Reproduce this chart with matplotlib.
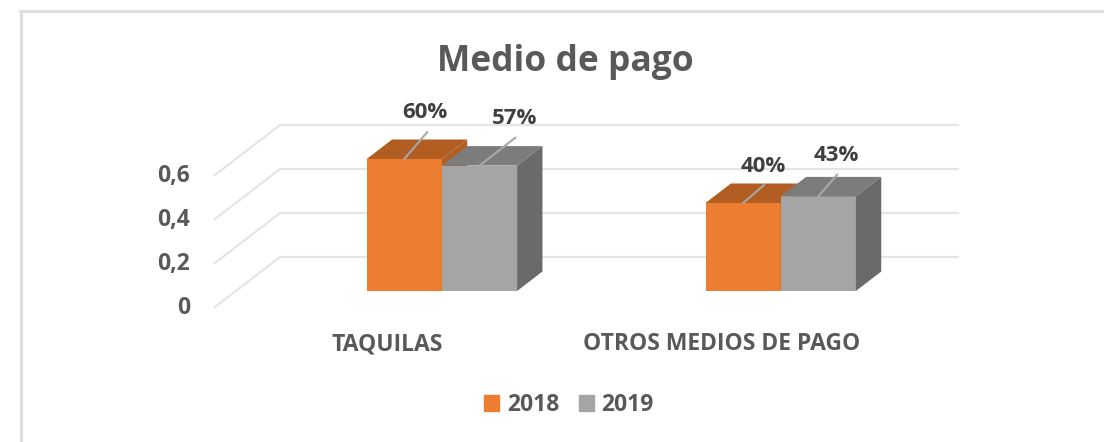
import matplotlib
matplotlib.use("Agg")
import matplotlib.pyplot as plt
from matplotlib.lines import Line2D
from matplotlib.patches import Patch
from matplotlib.transforms import ScaledTranslation

categories = ["TAQUILAS", "OTROS MEDIOS DE PAGO"]
years = ["2018", "2019"]
values_2018 = [0.60, 0.40]
values_2019 = [0.57, 0.43]
y_ticks = [0, 0.2, 0.4, 0.6]
y_tick_labels = ["0", "0,2", "0,4", "0,6"]
label_2018 = ["60%", "40%"]
label_2019 = ["57%", "43%"]

W, H = 1104, 442
plt.rcParams["font.family"] = ["Open Sans", "DejaVu Sans"]
plt.rcParams["font.weight"] = "bold"

fig = plt.figure(figsize=(W / 100, H / 100), dpi=100, facecolor="white")
L, R, B, T = 215, 893, 307, 87
ax = fig.add_axes([L / W, (H - B) / H, (R - L) / W, (B - T) / H])
ax.patch.set_alpha(0)

XU = 338.8            # px per category
YU = 220.0            # px per unit value
WALL_DX, WALL_DY = 65.0, 50.0
D0, D1 = 0.32, 0.71   # bar front/back depth
BAR = 75.2 / XU
C0 = 366.7 - D0 * WALL_DX
ax.set_xlim((L - C0) / XU, (R - C0) / XU)
ax.set_ylim(0, (B - T) / YU)


def P(x, v, d):
    return x + d * WALL_DX / XU, v + d * WALL_DY / YU


GRID = "#E4E4E4"
x0, x1 = ax.get_xlim()
for t in y_ticks:
    a, b = P(x0, t, 0), P(x0, t, 1)
    ax.plot([a[0], b[0]], [a[1], b[1]], color=GRID, lw=1.5, clip_on=False, zorder=1)
    c = P(x1, t, 1)
    ax.plot([b[0], c[0]], [b[1], c[1]], color=GRID, lw=1.5, clip_on=False, zorder=1)


def bar3d(x, v, front, top, side, z):
    dy = D0 * WALL_DY / YU
    left, right = x + D0 * WALL_DX / XU, x + D0 * WALL_DX / XU + BAR
    ax.bar(left, v, BAR, bottom=dy, align="edge", color=front, zorder=z, clip_on=False)
    dd = D1 - D0
    ox, oy = dd * WALL_DX / XU, dd * WALL_DY / YU
    ax.fill([left, right, right + ox, left + ox],
            [v + dy, v + dy, v + dy + oy, v + dy + oy], color=top, lw=0, zorder=z, clip_on=False)
    ax.fill([right, right + ox, right + ox, right],
            [dy, dy + oy, v + dy + oy, v + dy], color=side, lw=0, zorder=z, clip_on=False)


LEADER = "#A8A8A8"
TXT = "#404040"


def label(x, v, s, tip, text):
    px = x + D0 * WALL_DX / XU + BAR / 2
    py = v + D0 * WALL_DY / YU
    ax.annotate("", xy=(px, py), xytext=(tip[0] * 0.72, tip[1] * 0.72),
                xycoords="data", textcoords="offset points",
                arrowprops=dict(arrowstyle="-", color=LEADER, lw=1.5, shrinkA=0, shrinkB=0),
                zorder=20, annotation_clip=False)
    ax.annotate(s, xy=(px, py), xytext=(text[0] * 0.72, text[1] * 0.72),
                textcoords="offset points", ha="center", va="center",
                fontsize=16, color=TXT, zorder=21, annotation_clip=False)


tips_2018 = [(23, 27), (21, 18)]
tips_2019 = [(36, 28), (19, 22)]
text_2018 = [(21, 47), (20, 36)]
text_2019 = [(35, 47), (18, 41)]

for i, cat in enumerate(categories):
    bar3d(i, values_2018[i], "#ED7D31", "#B25E22", "#B25E22", 5 + i)
    bar3d(i + BAR, values_2019[i], "#A5A5A5", "#7C7C7C", "#6A6A6A", 6 + i)
    label(i, values_2018[i], label_2018[i], tips_2018[i], text_2018[i])
    label(i + BAR, values_2019[i], label_2019[i], tips_2019[i], text_2019[i])

for s in ax.spines.values():
    s.set_visible(False)
ax.set_yticks(y_ticks)
ax.set_yticklabels(y_tick_labels, fontsize=16.5, color="#595959")
ax.tick_params(axis="y", length=0, pad=25 * 0.72)
ax.set_xticks(range(len(categories)))
ax.set_xticklabels(categories, fontsize=16.5, color="#595959")
ax.tick_params(axis="x", length=0, pad=25 * 0.72)
shifts = [41.0, 37.0]
for lab, sh in zip(ax.get_xticklabels(), shifts):
    lab.set_transform(lab.get_transform() + ScaledTranslation(sh / 100, 0, fig.dpi_scale_trans))
for lab in ax.get_yticklabels():
    lab.set_transform(lab.get_transform() + ScaledTranslation(0, 2 / 100, fig.dpi_scale_trans))

fig.text(565 / W, 1 - 62 / H, "Medio de pago", ha="center", va="center",
         fontsize=25.5, color="#595959")

handles = [Patch(color="#ED7D31", label=years[0]), Patch(color="#A5A5A5", label=years[1])]
fig.legend(handles=handles, loc="center", bbox_to_anchor=(569 / W, 1 - 405 / H), ncol=2,
           frameon=False, fontsize=16.5, labelcolor="#595959",
           handlelength=0.65, handleheight=0.65, handletextpad=0.35, columnspacing=0.85,
           borderpad=0, borderaxespad=0)

BORDER = "#DEDEDE"
fig.add_artist(Line2D([20.5 / W, 20.5 / W], [0, 1 - 10.5 / H], color=BORDER, lw=2.2))
fig.add_artist(Line2D([19.5 / W, 1], [1 - 10.5 / H, 1 - 10.5 / H], color=BORDER, lw=2.2))

fig.savefig("out.png", dpi=100, facecolor="white")
